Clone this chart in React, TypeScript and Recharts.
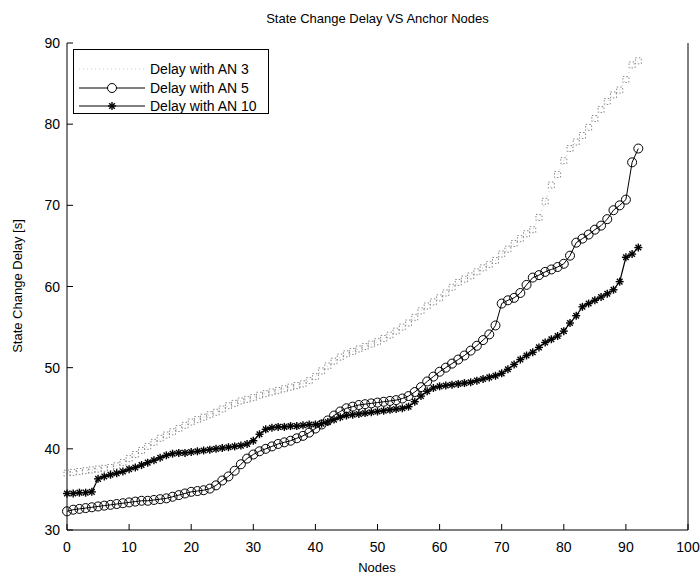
import { LineChart, Line, XAxis, YAxis, Label } from 'recharts'

const nodes = [
  0, 1, 2, 3, 4, 5, 6, 7, 8, 9, 10, 11, 12, 13, 14, 15, 16, 17, 18, 19,
  20, 21, 22, 23, 24, 25, 26, 27, 28, 29, 30, 31, 32, 33, 34, 35, 36, 37, 38, 39,
  40, 41, 42, 43, 44, 45, 46, 47, 48, 49, 50, 51, 52, 53, 54, 55, 56, 57, 58, 59,
  60, 61, 62, 63, 64, 65, 66, 67, 68, 69, 70, 71, 72, 73, 74, 75, 76, 77, 78, 79,
  80, 81, 82, 83, 84, 85, 86, 87, 88, 89, 90, 91, 92,
]

const delayAn3 = [
  37.0, 37.1, 37.2, 37.3, 37.4, 37.5, 37.6, 37.7, 37.9, 38.3, 38.8, 39.3, 39.8, 40.3, 40.8, 41.3, 41.7, 42.1, 42.5, 42.9,
  43.3, 43.6, 43.9, 44.2, 44.5, 44.9, 45.3, 45.6, 45.9, 46.1, 46.3, 46.6, 46.8, 47.0, 47.2, 47.4, 47.6, 47.8, 48.0, 48.4,
  48.9, 49.6, 50.2, 50.8, 51.3, 51.7, 52.0, 52.3, 52.6, 52.9, 53.2, 53.6, 54.0, 54.5, 55.0, 55.5, 56.2, 57.0, 57.6, 58.1,
  58.6, 59.2, 59.9, 60.5, 60.9, 61.3, 61.8, 62.3, 62.7, 63.2, 64.0, 64.6, 65.3, 65.9, 66.5, 67.0, 68.5, 70.5, 72.5, 73.8,
  75.5, 77.0, 77.8, 78.6, 79.6, 80.7, 81.8, 82.8, 83.6, 84.2, 85.5, 87.3, 87.8,
]

const delayAn5 = [
  32.3, 32.5, 32.6, 32.7, 32.8, 32.9, 33.0, 33.1, 33.2, 33.3, 33.4, 33.5, 33.6, 33.6, 33.7, 33.8, 33.9, 34.1, 34.3, 34.5,
  34.7, 34.8, 34.9, 35.1, 35.5, 36.1, 36.6, 37.3, 38.1, 38.8, 39.3, 39.7, 40.0, 40.3, 40.6, 40.8, 41.0, 41.3, 41.6, 42.0,
  42.5, 43.0, 43.5, 44.1, 44.6, 45.0, 45.2, 45.4, 45.5, 45.6, 45.7, 45.8, 45.9, 46.0, 46.2, 46.5, 47.0, 47.6, 48.3, 48.9,
  49.5, 50.0, 50.5, 51.0, 51.5, 52.1, 52.7, 53.4, 54.1, 55.2, 57.9, 58.3, 58.6, 59.2, 60.2, 61.1, 61.4, 61.8, 62.1, 62.4,
  62.8, 63.8, 65.4, 65.9, 66.4, 67.0, 67.5, 68.3, 69.4, 70.0, 70.7, 75.3, 77.0,
]

const delayAn10 = [
  34.5, 34.5, 34.6, 34.6, 34.7, 36.3, 36.6, 36.8, 37.0, 37.2, 37.5, 37.7, 38.0, 38.3, 38.6, 38.9, 39.2, 39.4, 39.5, 39.5,
  39.6, 39.7, 39.8, 39.9, 40.0, 40.1, 40.2, 40.3, 40.4, 40.6, 41.0, 41.8, 42.4, 42.6, 42.7, 42.7, 42.8, 42.8, 42.9, 43.0,
  43.0, 43.1, 43.3, 43.6, 43.9, 44.1, 44.2, 44.3, 44.4, 44.5, 44.6, 44.7, 44.8, 44.9, 45.0, 45.2, 45.8, 46.5, 47.1, 47.5,
  47.7, 47.8, 47.9, 48.0, 48.1, 48.2, 48.4, 48.6, 48.8, 49.0, 49.3, 49.8, 50.4, 51.0, 51.5, 51.9, 52.5, 53.1, 53.5, 53.9,
  54.5, 55.5, 56.4, 57.5, 57.9, 58.3, 58.7, 59.1, 59.6, 60.6, 63.6, 64.0, 64.8,
]

const xTicks = [0, 10, 20, 30, 40, 50, 60, 70, 80, 90, 100]
const yTicks = [30, 40, 50, 60, 70, 80, 90]

const seriesNames = ['Delay with AN 3', 'Delay with AN 5', 'Delay with AN 10']

const data = nodes.map((n, i) => ({
  node: n,
  an3: delayAn3[i],
  an5: delayAn5[i],
  an10: delayAn10[i],
}))

const FONT = '"Liberation Sans", Arial, sans-serif'

function Star({ cx, cy, s = 4 }: { cx: number; cy: number; s?: number }) {
  const d = s * 0.7
  return (
    <g stroke="#000" strokeWidth={1.4}>
      <line x1={cx - s} y1={cy} x2={cx + s} y2={cy} />
      <line x1={cx} y1={cy - s} x2={cx} y2={cy + s} />
      <line x1={cx - d} y1={cy - d} x2={cx + d} y2={cy + d} />
      <line x1={cx - d} y1={cy + d} x2={cx + d} y2={cy - d} />
    </g>
  )
}

const starDot = (props: any) => (
  <Star key={`s-${props.index}`} cx={props.cx} cy={props.cy} />
)

const squareDot = (props: any) => (
  <rect
    key={`q-${props.index}`}
    x={props.cx - 3}
    y={props.cy - 3}
    width={6}
    height={6}
    fill="none"
    stroke="#8a8a8a"
    strokeWidth={1}
    strokeDasharray="1.5 2"
  />
)

const bottomTick = (props: any) => (
  <g>
    <line x1={props.x} y1={props.y} x2={props.x} y2={props.y - 6} stroke="#000" />
    <text x={props.x} y={props.y + 22} textAnchor="middle" fontSize={14} fontFamily={FONT} fill="#000">
      {props.payload.value}
    </text>
  </g>
)

const topTick = (props: any) => (
  <line x1={props.x} y1={props.y} x2={props.x} y2={props.y + 6} stroke="#000" />
)

const leftTick = (props: any) => (
  <g>
    <line x1={props.x} y1={props.y} x2={props.x + 6} y2={props.y} stroke="#000" />
    <text x={props.x - 7} y={props.y + 5} textAnchor="end" fontSize={14} fontFamily={FONT} fill="#000">
      {props.payload.value}
    </text>
  </g>
)

const rightTick = (props: any) => (
  <line x1={props.x} y1={props.y} x2={props.x - 6} y2={props.y} stroke="#000" />
)

function LegendBox() {
  const rows = [20, 39, 57]
  return (
    <svg width={196} height={65} style={{ display: 'block' }}>
      <rect x={0.5} y={0.5} width={195} height={64} fill="#fff" stroke="#000" />
      <line x1={6} y1={rows[0]} x2={72} y2={rows[0]} stroke="#ccc" strokeDasharray="1 3" />
      <line x1={6} y1={rows[1]} x2={72} y2={rows[1]} stroke="#000" />
      <circle cx={39} cy={rows[1]} r={4.5} fill="#fff" stroke="#000" />
      <line x1={6} y1={rows[2]} x2={72} y2={rows[2]} stroke="#000" />
      <Star cx={39} cy={rows[2]} />
      {seriesNames.map((name, i) => (
        <text key={name} x={77} y={rows[i] + 5} fontSize={14} fontFamily={FONT} fill="#000">
          {name}
        </text>
      ))}
    </svg>
  )
}

export default function App() {
  return (
    <div style={{ position: 'absolute', left: 0, top: 0, width: 700, height: 579, background: '#fff' }}>
      <div
        style={{
          position: 'absolute',
          left: 67,
          width: 621,
          top: 11,
          textAlign: 'center',
          fontFamily: FONT,
          fontSize: 13,
          color: '#000',
        }}
      >
        State Change Delay VS Anchor Nodes
      </div>
      <LineChart
        width={700}
        height={579}
        data={data}
        margin={{ top: 43, right: 0, bottom: 0, left: 0 }}
      >
        <XAxis
          dataKey="node"
          type="number"
          domain={[0, 100]}
          ticks={xTicks}
          tickSize={0}
          tickMargin={0}
          tick={bottomTick}
          axisLine={{ stroke: '#000' }}
          height={49}
          interval={0}
        >
          <Label
            content={() => (
              <text x={377} y={572} textAnchor="middle" fontSize={13} fontFamily={FONT} fill="#000">
                Nodes
              </text>
            )}
          />
        </XAxis>
        <XAxis
          xAxisId="top"
          orientation="top"
          dataKey="node"
          type="number"
          domain={[0, 100]}
          ticks={xTicks}
          tickSize={0}
          tickMargin={0}
          tick={topTick}
          axisLine={{ stroke: '#000' }}
          height={0}
          interval={0}
        />
        <YAxis
          type="number"
          domain={[30, 90]}
          ticks={yTicks}
          tickSize={0}
          tickMargin={0}
          tick={leftTick}
          axisLine={{ stroke: '#000' }}
          width={67}
          interval={0}
        >
          <Label
            content={() => (
              <text
                x={22}
                y={286}
                transform="rotate(-90 22 286)"
                textAnchor="middle"
                fontSize={13}
                fontFamily={FONT}
                fill="#000"
              >
                State Change Delay [s]
              </text>
            )}
          />
        </YAxis>
        <YAxis
          yAxisId="right"
          orientation="right"
          type="number"
          domain={[30, 90]}
          ticks={yTicks}
          tickSize={0}
          tickMargin={0}
          tick={rightTick}
          axisLine={{ stroke: '#000' }}
          width={12}
          interval={0}
        />
        <Line
          dataKey="an3"
          name={seriesNames[0]}
          stroke="#c4c4c4"
          strokeWidth={1}
          strokeDasharray="1 4"
          dot={squareDot}
          isAnimationActive={false}
        />
        <Line
          dataKey="an5"
          name={seriesNames[1]}
          stroke="#000"
          strokeWidth={1}
          dot={{ r: 4.5, fill: 'none', stroke: '#000', strokeWidth: 1 }}
          isAnimationActive={false}
        />
        <Line
          dataKey="an10"
          name={seriesNames[2]}
          stroke="#000"
          strokeWidth={1.2}
          dot={starDot}
          isAnimationActive={false}
        />
      </LineChart>
      <div style={{ position: 'absolute', left: 73, top: 49 }}>
        <LegendBox />
      </div>
    </div>
  )
}
